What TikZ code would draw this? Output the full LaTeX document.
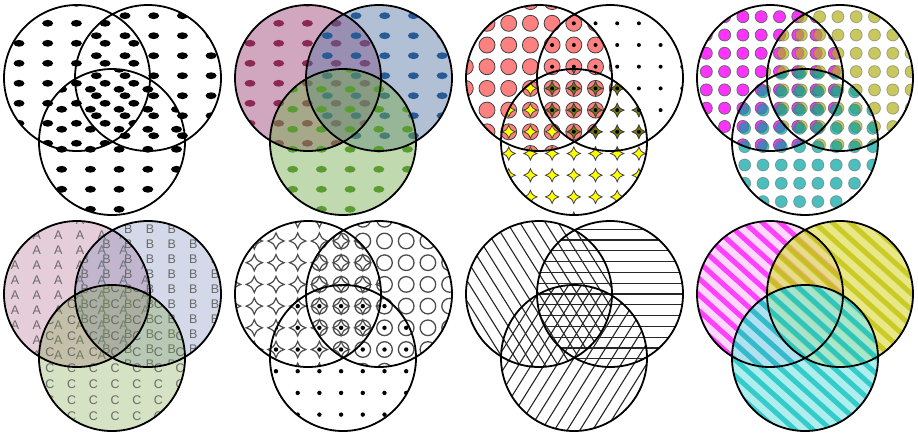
\documentclass[tikz,border=0pt]{standalone}
\usepackage{fontspec}
\newfontfamily\lettersf{Liberation Sans}
\definecolor{roseFill}{RGB}{150,60,110}
\definecolor{roseDot}{RGB}{140,40,85}
\definecolor{steelFill}{RGB}{85,115,165}
\definecolor{steelDot}{RGB}{40,90,150}
\definecolor{leafFill}{RGB}{115,171,75}
\definecolor{leafDot}{RGB}{90,155,50}
\definecolor{salmon}{RGB}{255,128,128}
\definecolor{starYellow}{RGB}{255,255,0}
\definecolor{starOlive}{RGB}{128,128,0}
\definecolor{magA}{RGB}{255,51,255}
\definecolor{oliveB}{RGB}{176,176,27}
\definecolor{tealC}{RGB}{0,162,162}
\definecolor{pinkA}{RGB}{170,90,130}
\definecolor{blueB}{RGB}{110,130,180}
\definecolor{greenC}{RGB}{120,160,60}
\definecolor{letterGrey}{RGB}{105,105,105}
\definecolor{stripeBgA}{RGB}{255,199,255}
\definecolor{stripeBgB}{RGB}{222,222,85}
\definecolor{stripeBgC}{RGB}{142,231,231}
\definecolor{stripeA}{RGB}{255,0,255}
\definecolor{stripeB}{RGB}{192,192,0}
\definecolor{stripeC}{RGB}{0,189,189}

\begin{document}
\begin{tikzpicture}[x=1bp,y=-1bp,
    ring/.style={draw=black,line width=1.8bp},
    bead/.style={draw=black!60,line width=.8bp},
    hatch/.style={draw=black!85,line width=1.1bp},
    stripe/.style={draw=#1,line width=5bp,draw opacity=.7},
    letter/.style={font=\lettersf\fontsize{12.5bp}{14bp}\selectfont,text=letterGrey,inner sep=0pt},
    spark/.pic={\path[pic actions] (6,0) .. controls (1.8,1.8) .. (0,6) .. controls (-1.8,1.8) .. (-6,0)
      .. controls (-1.8,-1.8) .. (0,-6) .. controls (1.8,-1.8) .. (6,0) -- cycle;}]
  \useasboundingbox (0,0) rectangle (918,432);

  % panel 1: black oval dots
  \begin{scope}
    \coordinate (p1a) at (77,78);
    \coordinate (p1b) at (148,78);
    \coordinate (p1c) at (112,142);
    \begin{scope}
      \clip (p1a) circle (73bp);
      \foreach \x in {-9.7,19,...,160}{\foreach \y in {3.3,23.3,...,160}{
        \fill (\x,\y) ellipse (5.5bp and 3.4bp);}}
    \end{scope}
    \begin{scope}
      \clip (p1b) circle (73bp);
      \foreach \x in {10.2,38.9,...,230}{\foreach \y in {-4.3,15.7,...,160}{
        \fill (\x,\y) ellipse (5.5bp and 3.4bp);}}
    \end{scope}
    \begin{scope}
      \clip (p1c) circle (73bp);
      \foreach \x in {4.3,33,...,200}{\foreach \y in {9.3,29.3,...,220}{
        \fill (\x,\y) ellipse (5.5bp and 3.4bp);}}
    \end{scope}
    \foreach \c in {p1a,p1b,p1c}{\draw[ring] (\c) circle (73bp);}
  \end{scope}

  % panel 2: tinted oval dots
  \begin{scope}[shift={(231,0)}]
    \coordinate (p2a) at (77,78);
    \coordinate (p2b) at (148,78);
    \coordinate (p2c) at (112,142);
    \begin{scope}
      \clip (p2a) circle (73bp);
      \fill[roseFill,fill opacity=.45] (p2a) circle (73bp);
      \foreach \x in {-9.7,19,...,160}{\foreach \y in {3.3,23.3,...,160}{
        \fill[roseDot] (\x,\y) ellipse (5.5bp and 3.4bp);}}
    \end{scope}
    \begin{scope}
      \clip (p2b) circle (73bp);
      \fill[steelFill,fill opacity=.45] (p2b) circle (73bp);
      \foreach \x in {10.2,38.9,...,230}{\foreach \y in {-4.3,15.7,...,160}{
        \fill[steelDot] (\x,\y) ellipse (5.5bp and 3.4bp);}}
    \end{scope}
    \begin{scope}
      \clip (p2c) circle (73bp);
      \fill[leafFill,fill opacity=.45] (p2c) circle (73bp);
      \foreach \x in {4.3,33,...,200}{\foreach \y in {9.3,29.3,...,220}{
        \fill[leafDot] (\x,\y) ellipse (5.5bp and 3.4bp);}}
    \end{scope}
    \foreach \c in {p2a,p2b,p2c}{\draw[ring] (\c) circle (73bp);}
  \end{scope}

  % panel 3: discs, dots and stars
  \begin{scope}[shift={(462,0)}]
    \coordinate (p3a) at (77,78);
    \coordinate (p3b) at (148,78);
    \coordinate (p3c) at (112,142);
    \begin{scope}
      \clip (p3a) circle (73bp);
      \foreach \x in {-18.4,3.3,...,160}{\foreach \y in {1.6,23.3,...,160}{
        \filldraw[bead,fill=salmon,draw=black!75] (\x,\y) circle (8bp);}}
    \end{scope}
    \begin{scope}
      \clip (p3c) circle (73bp);
      \foreach \x in {-18.4,3.3,...,200}{\foreach \y in {1.6,23.3,...,220}{
        \pic[fill=starYellow,draw=black!75,line width=.8bp,scale=1.1] at (\x,\y) {spark};}}
    \end{scope}
    \begin{scope}
      \clip (p3b) circle (73bp);
      \clip (p3c) circle (73bp);
      \foreach \x in {-18.4,3.3,...,230}{\foreach \y in {1.6,23.3,...,220}{
        \pic[fill=starOlive,draw=black!75,line width=.8bp,scale=1.1] at (\x,\y) {spark};}}
    \end{scope}
    \begin{scope}
      \clip (p3b) circle (73bp);
      \foreach \x in {-18.4,3.3,...,230}{\foreach \y in {1.6,23.3,...,160}{
        \fill (\x,\y) circle (2bp);}}
    \end{scope}
    \foreach \c in {p3a,p3b,p3c}{\draw[ring] (\c) circle (73bp);}
  \end{scope}

  % panel 4: coloured discs
  \begin{scope}[shift={(693,0)}]
    \coordinate (p4a) at (77,78);
    \coordinate (p4b) at (147,78);
    \coordinate (p4c) at (112,142);
    \begin{scope}
      \clip (p4a) circle (73bp);
      \foreach \x in {-5,13.3,...,160}{\foreach \y in {-1.6,16.7,...,160}{
        \filldraw[bead,fill=magA] (\x,\y) circle (6bp);}}
    \end{scope}
    \begin{scope}
      \clip (p4b) circle (73bp);
      \foreach \x in {-1.5,16.8,...,230}{\foreach \y in {-1.6,16.7,...,160}{
        \filldraw[bead,fill=oliveB,fill opacity=.7,draw opacity=.5] (\x,\y) circle (6bp);}}
    \end{scope}
    \begin{scope}
      \clip (p4c) circle (73bp);
      \foreach \x in {-3.2,15.1,...,200}{\foreach \y in {0.3,18.6,...,220}{
        \filldraw[bead,fill=tealC,fill opacity=.7,draw opacity=.5] (\x,\y) circle (6bp);}}
    \end{scope}
    \foreach \c in {p4a,p4b,p4c}{\draw[ring] (\c) circle (73bp);}
  \end{scope}

  % panel 5: letters
  \begin{scope}[shift={(0,216)}]
    \coordinate (p5a) at (77,78);
    \coordinate (p5b) at (148,78);
    \coordinate (p5c) at (112,142);
    \begin{scope}
      \clip (p5a) circle (73bp);
      \fill[pinkA,fill opacity=.3] (p5a) circle (73bp);
      \foreach \x in {15,36.7,...,150}{\foreach \y in {4,19,...,150}{
        \node[letter] (la) at (\x,\y) {A};}}
    \end{scope}
    \begin{scope}
      \clip (p5b) circle (73bp);
      \fill[blueB,fill opacity=.3] (p5b) circle (73bp);
      \foreach \x in {84.9,106.6,...,222}{\foreach \y in {13.3,28.3,...,150}{
        \node[letter] (lb) at (\x,\y) {B};}}
    \end{scope}
    \begin{scope}
      \clip (p5c) circle (73bp);
      \fill[greenC,fill opacity=.3] (p5c) circle (73bp);
      \foreach \x in {50,71.7,...,186}{\foreach \y in {71.7,87.7,...,210}{
        \node[letter] (lc) at (\x,\y) {C};}}
    \end{scope}
    \foreach \c in {p5a,p5b,p5c}{\draw[ring] (\c) circle (73bp);}
  \end{scope}

  % panel 6: hollow stars, rings and dots
  \begin{scope}[shift={(231,216)}]
    \coordinate (p6a) at (77,78);
    \coordinate (p6b) at (148,78);
    \coordinate (p6c) at (112,142);
    \begin{scope}
      \clip (p6a) circle (73bp);
      \foreach \x in {1.6,23.3,...,160}{\foreach \y in {3.3,25,...,160}{
        \pic[draw=black!70,line width=1.2bp,scale=1.35] at (\x,\y) {spark};}}
    \end{scope}
    \begin{scope}
      \clip (p6b) circle (73bp);
      \foreach \x in {1.6,23.3,...,230}{\foreach \y in {3.3,25,...,160}{
        \draw[black!70,line width=1.3bp] (\x,\y) circle (7.8bp);}}
    \end{scope}
    \begin{scope}
      \clip (p6c) circle (73bp);
      \foreach \x in {1.6,23.3,...,200}{\foreach \y in {3.3,25,...,220}{
        \fill (\x,\y) circle (2.2bp);}}
    \end{scope}
    \foreach \c in {p6a,p6b,p6c}{\draw[ring] (\c) circle (73bp);}
  \end{scope}

  % panel 7: line hatching
  \begin{scope}[shift={(462,216)}]
    \coordinate (p7a) at (77,78);
    \coordinate (p7b) at (148,78);
    \coordinate (p7c) at (112,142);
    \begin{scope}
      \clip (p7a) circle (73bp);
      \begin{scope}[shift={(p7a)},rotate=-58]
        \foreach \k in {-7,...,7}{\draw[hatch] (-80,\k*10.8) -- (80,\k*10.8);}
      \end{scope}
    \end{scope}
    \begin{scope}
      \clip (p7b) circle (73bp);
      \begin{scope}[shift={(p7b)}]
        \foreach \k in {-7,...,7}{\draw[hatch] (-80,\k*10.8) -- (80,\k*10.8);}
      \end{scope}
    \end{scope}
    \begin{scope}
      \clip (p7c) circle (73bp);
      \begin{scope}[shift={(p7c)},rotate=58]
        \foreach \k in {-7,...,7}{\draw[hatch] (-80,\k*10.8) -- (80,\k*10.8);}
      \end{scope}
    \end{scope}
    \foreach \c in {p7a,p7b,p7c}{\draw[ring] (\c) circle (73bp);}
  \end{scope}

  % panel 8: coloured stripes
  \begin{scope}[shift={(693,216)}]
    \coordinate (p8a) at (77,78);
    \coordinate (p8b) at (147,78);
    \coordinate (p8c) at (112,142);
    \begin{scope}
      \clip (p8a) circle (73bp);
      \fill[stripeBgA,fill opacity=.7] (p8a) circle (73bp);
      \begin{scope}[shift={(p8a)},rotate=-42]
        \foreach \k in {-7,...,7}{\draw[stripe=stripeA] (-80,\k*12) -- (80,\k*12);}
      \end{scope}
    \end{scope}
    \begin{scope}
      \clip (p8b) circle (73bp);
      \fill[stripeBgB,fill opacity=.7] (p8b) circle (73bp);
      \begin{scope}[shift={(p8b)},rotate=-42]
        \foreach \k in {-7,...,7}{\draw[stripe=stripeB] (-80,\k*12) -- (80,\k*12);}
      \end{scope}
    \end{scope}
    \begin{scope}
      \clip (p8c) circle (73bp);
      \fill[stripeBgC,fill opacity=.7] (p8c) circle (73bp);
      \begin{scope}[shift={(p8c)},rotate=-42]
        \foreach \k in {-7,...,7}{\draw[stripe=stripeC] (-80,\k*12) -- (80,\k*12);}
      \end{scope}
    \end{scope}
    \foreach \c in {p8a,p8b,p8c}{\draw[ring] (\c) circle (73bp);}
  \end{scope}
\end{tikzpicture}
\end{document}
